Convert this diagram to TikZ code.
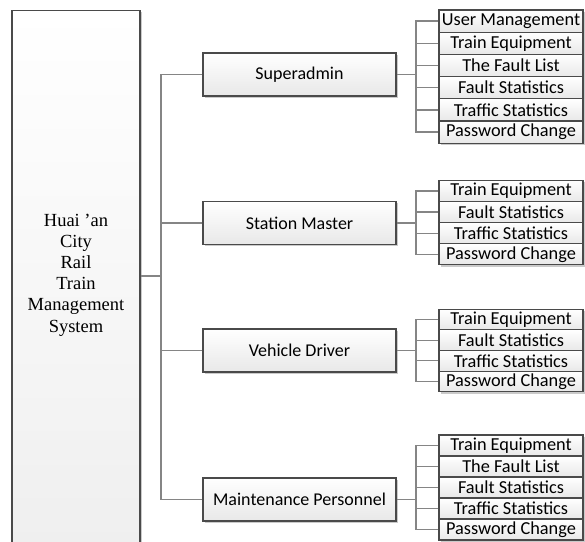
\documentclass[tikz,border=0pt]{standalone}
\usepackage{fontspec}
\setmainfont{Liberation Serif}
\newfontfamily\labelfont{Carlito}
\usetikzlibrary{shadows}
\definecolor{edgegray}{HTML}{4A4A4A}
\definecolor{linegray}{HTML}{858585}
\definecolor{shadegray}{HTML}{E8E8E8}
\tikzset{
  x=1pt, y=-1pt,
  boxbase/.style={rectangle, draw=edgegray, line width=1.1pt, inner sep=0pt,
    top color=white, bottom color=shadegray,
    drop shadow={shadow xshift=1.8pt, shadow yshift=-1.8pt, fill=black!35, opacity=0.6}},
  bigbox/.style={boxbase, minimum width=128, minimum height=600, anchor=north,
    bottom color=black!7},
  rolebox/.style={boxbase, minimum width=193, minimum height=43,
    font=\labelfont\fontsize{18}{20}\selectfont},
  itembox/.style={boxbase, minimum width=144, font=\labelfont\fontsize{18.3}{20}\selectfont},
  conn/.style={draw=linegray, line width=1.3pt},
}
\begin{document}
\begin{tikzpicture}
\useasboundingbox (0,0) rectangle (585,541);
\begin{scope}
\clip (0,0) rectangle (585,541);

% system block on the left
\node[bigbox] (sys) at (76,10) {};
\node[align=center, font=\fontsize{18.5}{21.2}\selectfont] (systext) at (76,275)
  {Huai 'an\\City\\Rail\\Train\\Management\\System};

% user roles
\node[rolebox] (r1) at (299.5,74.5) {Superadmin};
\node[rolebox] (r2) at (299.5,223) {Station Master};
\node[rolebox] (r3) at (299.5,350.5) {Vehicle Driver};
\node[rolebox] (r4) at (299.5,499.5) {Maintenance Personnel};

% functions of the superadmin
\foreach \i/\yc/\t in {1/21.1/User Management, 2/43.3/Train Equipment, 3/65.5/The Fault List,
                       4/87.7/Fault Statistics, 5/109.9/Traffic Statistics, 6/132.1/Password Change}
  \node[itembox, minimum height=22.2] (a\i) at (511,\yc) {\t};
% functions of the station master
\foreach \i/\yc/\t in {1/191/Train Equipment, 2/212.1/Fault Statistics,
                       3/233.2/Traffic Statistics, 4/254.3/Password Change}
  \node[itembox, minimum height=21.1] (b\i) at (511,\yc) {\t};
% functions of the vehicle driver
\foreach \i/\yc/\t in {1/319.6/Train Equipment, 2/340.2/Fault Statistics,
                       3/360.8/Traffic Statistics, 4/381.4/Password Change}
  \node[itembox, minimum height=20.6] (c\i) at (511,\yc) {\t};
% functions of the maintenance personnel
\foreach \i/\yc/\t in {1/445.5/Train Equipment, 2/466.5/The Fault List, 3/487.5/Fault Statistics,
                       4/508.5/Traffic Statistics, 5/529.5/Password Change}
  \node[itembox, minimum height=21] (d\i) at (511,\yc) {\t};

% main trunk from the system block to the roles
\coordinate (tj) at (161,276);
\draw[conn] (sys.east |- tj) -- (tj);
\draw[conn] (r1.west) -- (r1.west -| tj) -- (r4.west -| tj) -- (r4.west);
\draw[conn] (r2.west) -- (r2.west -| tj);
\draw[conn] (r3.west) -- (r3.west -| tj);

% branches from each role to its functions
\coordinate (bx) at (416,0);
\draw[conn] (r1.east) -- (r1.east -| bx);
\draw[conn] (a1.west) -- (a1.west -| bx) -- (a6.west -| bx) -- (a6.west);
\foreach \i in {2,...,5} \draw[conn] (a\i.west) -- (a\i.west -| bx);

\draw[conn] (r2.east) -- (r2.east -| bx);
\draw[conn] (b1.west) -- (b1.west -| bx) -- (b4.west -| bx) -- (b4.west);
\foreach \i in {2,3} \draw[conn] (b\i.west) -- (b\i.west -| bx);

\draw[conn] (r3.east) -- (r3.east -| bx);
\draw[conn] (c1.west) -- (c1.west -| bx) -- (c4.west -| bx) -- (c4.west);
\foreach \i in {2,3} \draw[conn] (c\i.west) -- (c\i.west -| bx);

\draw[conn] (r4.east) -- (r4.east -| bx);
\draw[conn] (d1.west) -- (d1.west -| bx) -- (d5.west -| bx) -- (d5.west);
\foreach \i in {2,3,4} \draw[conn] (d\i.west) -- (d\i.west -| bx);
\end{scope}
\end{tikzpicture}
\end{document}
